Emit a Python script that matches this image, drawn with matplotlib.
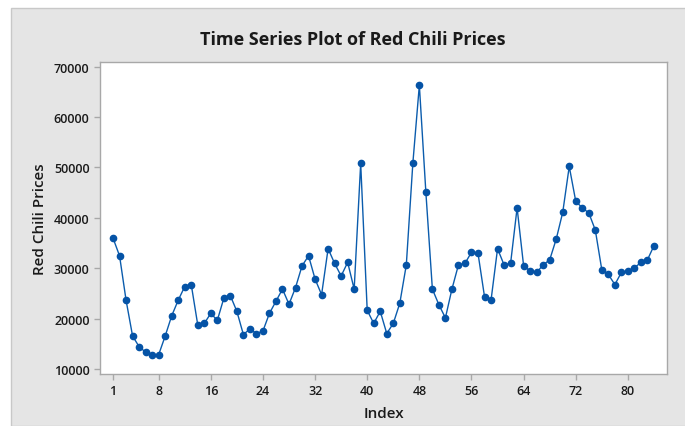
import numpy as np
import matplotlib
matplotlib.use("Agg")
import matplotlib.pyplot as plt
from matplotlib.patches import Rectangle

# red chili prices (index 1..84)
prices = [
    36000, 32500, 23700, 16600, 14500, 13400, 12900, 12900, 16600, 20600,
    23700, 26400, 26800, 18800, 19100, 21100, 19700, 24100, 24600, 21500,
    16900, 18000, 17100, 17600, 21100, 23500, 25900, 22900, 26200, 30500,
    32500, 27900, 24800, 33900, 31000, 28500, 31200, 25900, 50800, 21700,
    19100, 21500, 17100, 19100, 23100, 30700, 50800, 66300, 45100, 25900,
    22800, 20200, 25900, 30700, 31000, 33200, 33000, 24400, 23700, 33900,
    30700, 31000, 42000, 30500, 29500, 29200, 30700, 31700, 35800, 41100,
    50200, 43300, 42000, 41000, 37600, 29700, 28800, 26800, 29200, 29500,
    30100, 31200, 31700, 34500,
]
index = np.arange(1, len(prices) + 1)

x_ticks = [1, 8, 16, 24, 32, 40, 48, 56, 64, 72, 80]
y_ticks = [10000, 20000, 30000, 40000, 50000, 60000, 70000]

plt.rcParams['font.family'] = ['Open Sans', 'DejaVu Sans']

W, H = 685, 427
fig = plt.figure(figsize=(W / 100, H / 100), dpi=100)
fig.patch.set_facecolor('white')

# grey minitab-style panel behind everything
panel = Rectangle((11 / W, 0), 1, 1 - 9 / H, transform=fig.transFigure,
                  facecolor='#e5e5e5', edgecolor='#c8c8c8', linewidth=1, zorder=-5)
fig.patches.append(panel)

ax = fig.add_axes([100 / W, 1 - 375 / H, (667 - 100) / W, (375 - 63) / H])
ax.set_zorder(2)
ax.set_facecolor('white')

ax.plot(index, prices, color='#0b5cad', linewidth=1.0, marker='o',
        markersize=4.5, markerfacecolor='#0553a6', markeredgecolor='#0553a6')

ax.set_xlim(-1.0, 86.0)
ax.set_ylim(9080, 70900)
ax.set_xticks(x_ticks)
ax.set_yticks(y_ticks)

for s in ax.spines.values():
    s.set_color('#a8a8a8')
    s.set_linewidth(1)

ax.tick_params(axis='both', colors='#a8a8a8', length=4, width=1, labelsize=9,
               labelcolor='#1a1a1a')
for lab in ax.get_xticklabels() + ax.get_yticklabels():
    lab.set_fontweight('semibold')

ax.set_xlabel('Index', fontsize=11, fontweight='semibold', color='#1a1a1a', labelpad=6)
ax.set_ylabel('Red Chili Prices', fontsize=11, fontweight='semibold', color='#1a1a1a', labelpad=5)

fig.text(353 / W, 1 - 40 / H, 'Time Series Plot of Red Chili Prices', ha='center',
         va='center', fontsize=13, fontweight='bold', color='#1a1a1a', zorder=3)

fig.savefig('out.png', dpi=100)
